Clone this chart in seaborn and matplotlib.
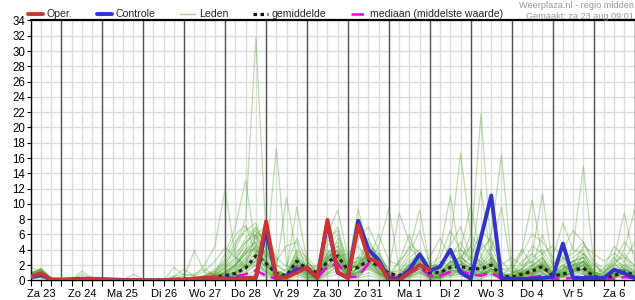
import numpy as np
import pandas as pd
import matplotlib
matplotlib.use("Agg")
import matplotlib.pyplot as plt
from matplotlib.lines import Line2D
import seaborn as sns

# ---------------- data (hours after Za 23 00:00, 6-hourly) ----------------
hours = list(range(6, 361, 6))
day_labels = ["Za 23", "Zo 24", "Ma 25", "Di 26", "Wo 27", "Do 28", "Vr 29", "Za 30",
              "Zo 31", "Ma 1", "Di 2", "Wo 3", "Do 4", "Vr 5", "Za 6"]
y_ticks = list(range(0, 35, 2))

oper = [0.5, 0.9, 0.1, 0.05, 0.05, 0.15, 0.2, 0.1, 0.05, 0.0,
        0.05, 0.0, 0.0, 0.0, 0.05, 0.1, 0.2, 0.35, 0.3, 0.2,
        0.2, 0.3, 0.3, 7.7, 0.3, 0.4, 1.0, 1.7, 0.3, 7.9,
        1.1, 0.3, 7.2, 2.9, 2.3, 0.0, 0.0, 1.0, 2.0, 1.35]

controle = [0.4, 0.7, 0.1, 0.1, 0.15, 0.2, 0.2, 0.15, 0.1, 0.05,
            0.05, 0.0, 0.0, 0.0, 0.0, 0.05, 0.1, 0.2, 0.2, 0.2,
            0.2, 0.3, 0.3, 6.6, 0.3, 0.5, 1.4, 1.6, 0.3, 7.6,
            1.0, 0.3, 7.8, 4.05, 2.65, 0.2, 0.2, 1.4, 3.4, 1.25,
            1.8, 4.0, 1.0, 0.2, 5.6, 11.1, 0.25, 0.2, 0.2, 0.2,
            0.3, 0.4, 4.8, 0.3, 0.3, 0.3, 0.3, 1.4, 0.9, 0.3]

gemiddelde = [0.5, 0.8, 0.1, 0.05, 0.05, 0.1, 0.1, 0.05, 0.05, 0.0,
              0.05, 0.0, 0.0, 0.0, 0.1, 0.15, 0.2, 0.3, 0.4, 0.6,
              0.9, 1.6, 3.2, 2.2, 0.9, 0.6, 2.5, 1.5, 1.0, 2.4,
              3.2, 1.3, 1.7, 2.6, 1.9, 0.9, 0.6, 1.2, 2.0, 1.0,
              1.0, 1.7, 1.8, 1.5, 1.5, 2.0, 0.6, 0.4, 0.8, 1.2,
              1.8, 0.6, 0.8, 1.3, 1.6, 0.5, 0.3, 0.6, 1.1, 0.7]

mediaan = [0.4, 0.6, 0.1, 0.0, 0.0, 0.0, 0.0, 0.0, 0.0, 0.0,
           0.0, 0.0, 0.0, 0.0, 0.0, 0.0, 0.0, 0.1, 0.2, 0.3,
           0.5, 0.8, 1.3, 0.6, 0.2, 0.3, 1.7, 1.4, 0.3, 1.8,
           2.2, 0.4, 0.5, 2.2, 1.9, 0.5, 0.2, 0.9, 1.7, 0.6,
           0.6, 1.1, 1.3, 0.7, 0.6, 1.0, 0.2, 0.1, 0.2, 0.4,
           0.6, 0.2, 0.2, 0.3, 0.6, 0.3, 0.1, 0.2, 0.4, 0.3]

# ensemble members (Leden)
led01 = [0.4, 0.8, 0.1, 0, 0, 0, 0, 0, 0, 0,
         0, 0, 0, 0, 0, 0, 0.2, 0.5, 1.2, 2.0,
         4.5, 8.0, 31.8, 5.5, 1.2, 0.5, 2.0, 1.0, 0.3, 1.5,
         3.5, 0.8, 1.0, 2.5, 1.2, 0.2, 0, 0.8, 1.5, 0.4,
         0.2, 1.0, 2.2, 0.8, 0.5, 1.5, 0.2, 0, 0, 0.6,
         1.8, 0.3, 0.5, 1.0, 2.0, 0.2, 0, 0.3, 1.0, 0.4]
led02 = [0.6, 1.2, 0.2, 0, 0, 0.3, 0.1, 0, 0, 0,
         0, 0, 0, 0, 0, 0, 0, 0.3, 0.8, 1.5,
         2.5, 5.0, 6.5, 3.0, 17.3, 2.0, 0.8, 0.3, 0.5, 3.0,
         4.5, 1.5, 2.0, 3.5, 2.5, 0.8, 0.3, 1.5, 2.8, 1.2,
         0.5, 2.5, 1.5, 0.6, 1.8, 3.0, 0.4, 0.2, 0.8, 1.5,
         2.5, 0.5, 1.2, 2.0, 3.0, 0.8, 0.2, 1.0, 2.0, 0.5]
led03 = [0.3, 0.5, 0, 0, 0, 0, 0, 0, 0, 0,
         0, 0, 0, 0, 0.5, 0.8, 0.6, 2.0, 4.5, 12.0,
         3.0, 1.5, 2.5, 1.0, 0.3, 0.2, 1.5, 0.6, 0.2, 0.8,
         2.0, 0.5, 0.4, 1.8, 0.8, 0, 0, 0.5, 1.0, 0.3,
         0.4, 0.8, 1.2, 0.5, 2.5, 1.0, 0, 0, 0.3, 0.8,
         1.0, 0.2, 0.8, 0.6, 1.5, 0.3, 0, 0.5, 0.8, 0.2]
led04 = [0.8, 1.5, 0.3, 0, 0, 0, 0, 0, 0, 0,
         0, 0, 0, 0, 0, 0, 0.2, 0.4, 1.0, 3.5,
         7.0, 13.1, 4.0, 2.5, 0.5, 0.3, 2.2, 1.2, 0.5, 2.0,
         1.5, 0.2, 1.8, 3.0, 2.0, 0.5, 0.2, 1.2, 2.0, 0.6,
         1.0, 1.5, 2.0, 3.0, 1.0, 0.8, 0.3, 0.5, 1.2, 0.4,
         0.8, 0.4, 1.5, 2.5, 1.0, 0.3, 0.5, 1.5, 0.6, 0.3]
led05 = [0.5, 0.9, 0.1, 0, 0, 0, 0, 0, 0, 0,
         0, 0, 0, 0, 0, 0, 0, 0, 0.3, 0.6,
         1.2, 2.5, 4.5, 3.5, 1.5, 10.9, 3.0, 1.0, 0.8, 2.5,
         5.5, 2.0, 1.5, 4.0, 1.5, 0.3, 0.5, 2.0, 3.0, 0.8,
         0.3, 1.2, 3.5, 1.0, 0.5, 2.0, 0.5, 0.3, 0.5, 1.8,
         3.0, 0.6, 0.4, 1.2, 2.5, 1.0, 0.3, 0.8, 1.8, 1.0]
led06 = [1.2, 0.9, 0.2, 0, 0, 0, 0, 0, 0, 0,
         0, 0, 0, 0, 0, 0, 0.3, 0.2, 0.5, 1.0,
         2.0, 3.5, 5.0, 2.0, 0.8, 1.5, 9.6, 2.5, 1.2, 3.5,
         2.5, 1.0, 0.5, 2.0, 3.5, 1.2, 0.4, 0.8, 1.5, 1.8,
         2.0, 0.6, 0.8, 1.5, 0.5, 2.8, 1.0, 0.2, 0.4, 0.8,
         1.2, 1.8, 0.6, 0.4, 1.0, 0.5, 0.8, 2.2, 1.0, 0.6]
led07 = [0.3, 0.6, 0.1, 0, 0, 0, 0, 0, 0, 0,
         0, 0, 0, 0, 0, 0, 0, 0.2, 0.3, 0.5,
         0.8, 2.0, 3.0, 1.5, 0.3, 0.5, 1.0, 2.0, 0.5, 1.5,
         2.0, 0.6, 3.0, 2.0, 4.5, 9.4, 1.5, 0.5, 2.0, 0.6,
         0.4, 1.5, 0.8, 0.3, 1.0, 2.5, 0.4, 0, 0.2, 0.5,
         0.8, 0.3, 1.0, 2.0, 1.2, 0.2, 0, 0.4, 0.5, 0.2]
led08 = [0.2, 0.4, 0, 0, 0, 0, 0, 0, 0, 0,
         0, 0, 0, 0, 0, 0, 0, 0, 0.2, 0.4,
         0.6, 1.5, 2.5, 4.0, 1.0, 0.5, 3.0, 1.5, 0.6, 2.5,
         3.0, 1.2, 1.5, 3.5, 1.0, 0.3, 2.5, 4.0, 9.2, 2.0,
         1.0, 0.5, 1.8, 2.0, 0.8, 1.2, 0.5, 0.8, 1.5, 2.5,
         1.5, 0.5, 0.8, 1.5, 0.8, 0.3, 0.2, 0.6, 1.2, 0.5]
led09 = [0.6, 1.1, 0.2, 0, 0, 0, 0, 0, 0, 0,
         0, 0, 0, 0, 0, 0, 0, 0.3, 0.6, 0.8,
         1.5, 3.0, 4.5, 2.0, 0.6, 0.3, 1.8, 0.8, 1.0, 4.0,
         2.0, 0.5, 1.0, 2.2, 1.5, 0.2, 0.5, 1.5, 2.5, 0.5,
         4.0, 11.1, 2.5, 1.0, 0.6, 1.5, 0.3, 0.2, 1.0, 2.0,
         1.0, 0.2, 0.5, 1.0, 3.5, 1.2, 0.4, 0.8, 1.5, 0.8]
led10 = [0.4, 0.7, 0.1, 0, 0, 0, 0, 0, 0, 0,
         0, 0, 0, 0, 0, 0, 0, 0, 0.4, 0.7,
         1.0, 2.2, 3.5, 1.5, 0.4, 0.8, 2.5, 1.0, 0.4, 3.0,
         4.0, 0.8, 1.5, 3.0, 2.0, 0.5, 0.3, 1.0, 1.5, 0.8,
         1.5, 5.0, 16.6, 6.0, 1.5, 0.8, 0.2, 0.4, 0.8, 1.2,
         2.0, 0.5, 1.0, 1.8, 2.2, 0.4, 0.2, 1.2, 0.8, 0.3]
led11 = [0.9, 1.4, 0.3, 0, 0, 0, 0, 0, 0, 0,
         0, 0, 0, 0, 0, 0, 0, 0.2, 0.5, 1.2,
         2.0, 4.0, 6.0, 2.5, 1.0, 0.4, 2.0, 1.5, 0.6, 2.0,
         3.0, 1.0, 2.5, 3.0, 1.8, 0.4, 0.6, 2.0, 3.0, 1.0,
         0.8, 2.0, 4.0, 9.8, 3.0, 1.5, 0.5, 0.3, 1.0, 0.6,
         1.5, 0.8, 2.0, 1.0, 1.5, 0.6, 0.4, 1.0, 2.0, 1.2]
led12 = [0.3, 0.5, 0.1, 0, 0, 0, 0, 0, 0, 0,
         0, 0, 0, 0, 0, 0, 0.1, 0.2, 0.3, 0.5,
         0.8, 1.8, 2.5, 1.2, 0.5, 0.2, 1.2, 0.5, 0.2, 1.2,
         2.5, 0.5, 1.8, 2.5, 1.0, 0.2, 0.3, 1.0, 1.8, 0.4,
         0.5, 1.5, 2.0, 4.5, 21.8, 3.5, 0.8, 0.3, 0.5, 1.0,
         1.8, 0.3, 0.6, 1.2, 1.8, 0.4, 0.2, 0.6, 1.0, 0.5]
led13 = [0.7, 1.0, 0.2, 0, 0, 0, 0, 0, 0, 0,
         0, 0, 0, 0, 0, 0, 0, 0.3, 0.6, 0.9,
         1.8, 3.5, 5.5, 3.0, 0.8, 0.5, 3.0, 2.0, 0.8, 3.5,
         5.0, 1.5, 2.0, 4.0, 2.5, 0.6, 0.3, 1.5, 2.5, 1.5,
         1.0, 2.5, 3.0, 2.0, 11.9, 2.5, 0.5, 0.8, 1.5, 0.8,
         2.5, 1.0, 1.5, 2.0, 2.5, 0.5, 0.3, 1.5, 1.2, 0.6]
led14 = [0.5, 0.8, 0.1, 0, 0, 0, 0, 0, 0, 0,
         0, 0, 0, 0, 0, 0, 0, 0.2, 0.2, 0.4,
         0.6, 1.2, 2.0, 1.0, 0.2, 0.3, 1.5, 0.8, 0.3, 2.0,
         2.8, 0.6, 1.0, 1.5, 0.8, 0.2, 0.2, 0.6, 1.2, 0.3,
         0.6, 1.0, 1.5, 1.2, 3.0, 6.0, 16.4, 2.0, 0.6, 1.5,
         2.0, 0.4, 0.8, 1.5, 2.0, 0.3, 0.2, 0.8, 1.0, 0.4]
led15 = [1.0, 1.3, 0.2, 0, 0, 0, 0, 0, 0, 0,
         0, 0, 0, 0, 0, 0, 0.2, 0.5, 0.8, 1.5,
         3.0, 5.5, 7.0, 4.0, 1.5, 0.6, 2.8, 1.2, 0.5, 2.8,
         3.8, 1.2, 3.0, 2.8, 2.0, 0.5, 0.8, 1.8, 2.2, 1.5,
         1.2, 1.8, 2.5, 1.5, 2.0, 4.0, 9.6, 1.2, 0.8, 1.0,
         1.2, 0.8, 1.2, 2.5, 3.0, 0.8, 0.4, 1.2, 1.5, 0.8]
led16 = [0.4, 0.6, 0.1, 0, 0, 0, 0, 0, 0, 0,
         0, 0, 0, 0, 0, 0, 0, 0, 0.2, 0.3,
         0.5, 1.0, 2.0, 0.8, 0.3, 0.2, 1.0, 0.4, 0.2, 1.0,
         1.8, 0.4, 0.8, 1.5, 0.6, 0.1, 0.2, 0.5, 1.0, 0.3,
         0.3, 0.8, 1.0, 0.6, 0.8, 1.5, 0.5, 2.0, 4.0, 10.5,
         3.0, 0.8, 0.5, 1.0, 1.5, 0.3, 0.2, 0.5, 0.8, 0.3]
led17 = [0.6, 1.0, 0.2, 0, 0, 0, 0, 0, 0, 0,
         0, 0, 0, 0, 0, 0, 0, 0.2, 0.5, 0.8,
         1.2, 2.5, 3.5, 2.0, 0.8, 0.4, 2.2, 1.0, 0.4, 2.2,
         3.2, 0.8, 1.5, 2.5, 1.5, 0.3, 0.4, 1.2, 2.0, 0.6,
         0.8, 1.5, 2.0, 1.0, 1.2, 2.0, 0.5, 0.4, 1.5, 3.5,
         11.3, 2.0, 0.8, 1.5, 2.0, 0.5, 0.3, 1.0, 1.5, 0.5]
led18 = [0.5, 0.9, 0.1, 0, 0, 0, 0, 0, 0, 0,
         0, 0, 0, 0, 0, 0, 0, 0.1, 0.3, 0.6,
         1.0, 2.0, 3.0, 1.8, 0.6, 0.3, 1.8, 0.8, 0.4, 1.8,
         2.5, 0.6, 1.2, 2.0, 1.2, 0.2, 0.3, 1.0, 1.5, 0.5,
         0.6, 1.2, 1.5, 1.0, 0.8, 1.5, 0.4, 0.3, 0.8, 1.2,
         2.0, 0.6, 1.5, 4.5, 14.9, 2.5, 0.5, 1.0, 1.5, 0.5]
led19 = [0.3, 0.5, 0, 0, 0, 0, 0, 0, 0, 0,
         0, 0, 0, 0, 0, 0, 0, 0, 0.2, 0.4,
         0.8, 1.5, 2.2, 1.2, 0.4, 0.2, 1.2, 0.6, 0.3, 1.5,
         2.2, 0.5, 1.0, 1.8, 1.0, 0.2, 0.2, 0.8, 1.2, 0.4,
         0.5, 1.0, 1.2, 0.8, 0.6, 1.2, 0.3, 0.2, 0.6, 1.0,
         1.5, 0.5, 1.2, 2.0, 2.5, 0.8, 1.0, 3.0, 8.8, 2.5]
led20 = [0.8, 1.2, 0.2, 0, 0, 0, 0, 0, 0, 0,
         0, 0, 0, 0, 0, 0, 0.2, 0.4, 0.7, 1.0,
         1.8, 3.5, 4.0, 2.2, 1.0, 0.5, 2.5, 1.5, 0.5, 2.5,
         3.5, 1.2, 2.0, 3.2, 2.0, 0.4, 0.5, 1.5, 2.5, 0.8,
         0.8, 2.0, 2.5, 1.5, 1.5, 2.5, 0.6, 0.5, 1.2, 1.5,
         2.2, 0.8, 1.5, 2.5, 3.0, 1.0, 0.8, 2.0, 4.0, 9.2]
led21 = [1.7, 1.1, 0.2, 0, 0, 1.2, 0.3, 0, 0, 0,
         0, 0, 0, 0, 0.3, 0.5, 3.9, 1.0, 0.8, 2.5,
         5.0, 6.5, 7.5, 4.0, 1.2, 0.8, 3.5, 2.2, 0.8, 4.5,
         6.0, 2.5, 3.0, 5.0, 3.0, 0.8, 1.0, 3.0, 4.0, 1.5,
         1.5, 3.0, 5.0, 2.5, 2.0, 3.5, 1.0, 0.8, 2.0, 2.5,
         3.5, 1.5, 2.5, 3.0, 4.0, 1.5, 1.0, 2.5, 3.0, 1.5]
led22 = [0.3, 0.6, 0.1, 0, 0, 0.4, 0, 0, 0, 0,
         0.8, 0.2, 0, 0, 1.7, 0.6, 0.8, 1.5, 0.6, 1.8,
         3.5, 5.0, 6.0, 3.5, 1.0, 0.6, 2.5, 1.2, 0.5, 2.8,
         4.0, 1.8, 1.5, 3.0, 2.0, 0.5, 0.6, 2.0, 3.2, 1.0,
         1.2, 2.5, 2.0, 1.8, 1.0, 2.2, 0.8, 0.4, 1.0, 1.8,
         2.8, 1.0, 1.8, 1.5, 2.5, 1.0, 0.5, 1.5, 2.2, 1.0]
led23 = [0.6, 1.6, 0.3, 0, 0, 0.8, 0.2, 0, 0, 0,
         0, 0, 0, 0, 0.5, 1.5, 0.4, 0.6, 1.5, 2.2,
         4.0, 7.0, 5.5, 6.5, 2.0, 1.0, 3.8, 2.5, 1.0, 5.0,
         7.0, 2.0, 2.5, 4.5, 3.5, 1.0, 1.2, 2.5, 3.5, 2.0,
         2.0, 3.5, 4.0, 3.0, 2.5, 4.5, 1.5, 1.0, 1.5, 3.0,
         4.0, 2.0, 2.8, 3.5, 5.0, 2.0, 1.2, 2.0, 3.5, 1.8]
led24 = [0.2, 0.3, 0, 0, 0, 0, 0, 0, 0, 0,
         0, 0, 0, 0, 0, 0, 0, 0, 0, 0.2,
         0.3, 0.5, 0.8, 0.4, 0.1, 0, 0.5, 0.2, 0, 0.5,
         0.8, 0.2, 0.3, 0.6, 0.3, 0, 0, 0.3, 0.5, 0.1,
         0.2, 0.4, 0.5, 0.3, 0.2, 0.6, 0.1, 0, 0.2, 0.4,
         0.6, 0.2, 0.3, 0.5, 0.8, 0.2, 0, 0.3, 0.4, 0.1]
led25 = [0.5, 1.2, 0.2, 0, 0, 0, 0, 0, 0, 0,
         0, 0, 0, 0, 0, 0.3, 0.2, 0.4, 1.0, 1.8,
         2.8, 4.5, 6.8, 4.5, 2.0, 1.2, 4.0, 3.0, 1.5, 6.0,
         9.2, 3.0, 2.0, 5.5, 2.5, 0.6, 0.8, 2.2, 3.5, 1.2,
         1.0, 2.2, 3.0, 2.0, 1.5, 3.0, 0.8, 0.6, 1.2, 2.0,
         3.0, 1.2, 2.0, 2.5, 3.5, 1.2, 0.6, 1.8, 2.5, 1.2]
led26 = [0.4, 0.8, 0.1, 0, 0, 0, 0, 0, 0, 0,
         0, 0, 0, 0, 0, 0, 0.1, 0.3, 0.6, 1.2,
         2.2, 4.0, 5.0, 2.8, 1.2, 0.8, 3.2, 1.8, 0.8, 3.5,
         4.5, 2.0, 9.3, 4.0, 3.0, 1.5, 8.8, 5.0, 3.5, 1.5,
         2.5, 1.8, 3.0, 4.5, 2.0, 1.5, 0.6, 0.8, 2.5, 3.5,
         2.0, 1.0, 3.0, 1.5, 2.0, 0.8, 1.5, 3.0, 1.5, 1.0]
led27 = [0.7, 1.0, 0.2, 0, 0, 0.2, 0, 0, 0, 0,
         0, 0, 0, 0, 0, 0, 0, 0.2, 0.4, 1.0,
         2.0, 3.8, 4.2, 2.2, 0.8, 0.6, 2.6, 1.8, 0.7, 3.2,
         3.8, 1.5, 2.2, 3.8, 2.2, 0.8, 1.5, 3.5, 6.5, 2.0,
         3.0, 6.5, 4.0, 2.5, 5.0, 3.0, 1.5, 1.5, 3.5, 6.0,
         5.0, 3.0, 7.5, 4.0, 3.5, 2.0, 1.0, 2.5, 5.0, 3.5]
led28 = [0.9, 1.5, 0.2, 0, 0, 0, 0, 0, 0, 0,
         0, 0, 0, 0, 0.4, 0.2, 0.2, 0.6, 1.2, 2.8,
         6.0, 7.2, 3.5, 5.5, 3.0, 1.8, 5.5, 2.5, 1.0, 3.0,
         3.0, 3.5, 4.5, 2.5, 6.0, 2.5, 2.0, 4.5, 2.5, 3.0,
         5.5, 3.0, 2.5, 6.0, 4.0, 5.5, 2.0, 3.0, 2.0, 4.5,
         3.5, 4.5, 3.0, 2.0, 4.5, 3.5, 2.5, 3.5, 2.5, 5.0]
led29 = [0.3, 0.4, 0.1, 0, 0, 0, 0, 0, 0, 0,
         0, 0, 0, 0, 0, 0, 0, 0, 0.1, 0.3,
         0.5, 0.8, 1.2, 0.6, 0.2, 0.1, 0.8, 0.3, 0.1, 0.8,
         1.2, 0.3, 0.5, 1.0, 0.5, 0, 0.1, 0.4, 0.8, 0.2,
         0.3, 0.6, 0.8, 0.4, 0.3, 0.8, 0.2, 0, 0.3, 0.6,
         1.0, 0.3, 0.5, 0.8, 1.2, 0.3, 0.1, 0.4, 0.6, 0.2]
led30 = [0.6, 0.9, 0.2, 0, 0, 0, 0, 0, 0, 0,
         0, 0, 0, 0, 0.2, 0.3, 0.5, 1.2, 2.5, 4.3,
         3.0, 2.0, 6.0, 7.0, 2.5, 4.5, 5.0, 1.2, 2.0, 5.5,
         6.5, 1.0, 5.5, 7.0, 4.0, 0.8, 2.5, 6.0, 2.0, 0.5,
         1.5, 4.5, 7.0, 3.0, 6.5, 5.0, 2.5, 1.0, 4.0, 2.0,
         6.0, 2.0, 4.0, 6.5, 5.0, 2.5, 1.5, 4.5, 3.0, 2.0]
led31 = [0.4, 1.3, 0.2, 0, 0, 0, 0, 0, 0, 0,
         0, 0, 0, 0, 0, 0, 0, 0.1, 0.5, 0.9,
         1.5, 2.8, 3.8, 2.5, 0.7, 0.4, 2.0, 1.0, 0.3, 2.5,
         3.0, 0.7, 1.2, 2.8, 1.0, 0.1, 0.2, 1.2, 2.2, 0.5,
         0.7, 1.8, 2.2, 1.2, 0.9, 2.0, 0.3, 0.2, 0.7, 1.4,
         2.2, 0.4, 0.9, 1.8, 2.4, 0.6, 0.2, 0.9, 1.4, 0.6]
led32 = [0.7, 0.7, 0.1, 0, 0, 0, 0, 0, 0, 0,
         0, 0, 0, 0, 0, 0, 0, 0.2, 0.2, 0.7,
         1.0, 1.8, 2.8, 1.8, 0.5, 0.3, 1.5, 0.7, 0.3, 1.8,
         2.2, 0.4, 0.8, 2.0, 0.8, 0.1, 0.1, 0.7, 1.5, 0.3,
         0.4, 1.2, 1.4, 0.9, 0.7, 1.2, 0.2, 0.1, 0.5, 0.9,
         1.4, 0.3, 0.7, 1.2, 1.6, 0.4, 0.1, 0.6, 0.9, 0.3]

leden = [led01, led02, led03, led04, led05, led06, led07, led08, led09, led10,
         led11, led12, led13, led14, led15, led16, led17, led18, led19, led20,
         led21, led22, led23, led24, led25, led26, led27, led28, led29, led30,
         led31, led32]

# ---------------- tables ----------------
for arr in leden + [controle, gemiddelde, mediaan]:
    assert len(arr) == len(hours), len(arr)

df_leden = pd.DataFrame([
    {"uur": h, "mm": v, "lid": k}
    for k, arr in enumerate(leden) for h, v in zip(hours, arr)
])
df_oper = pd.DataFrame({"uur": hours[:len(oper)], "mm": oper})
df_ctrl = pd.DataFrame({"uur": hours, "mm": controle})
df_mean = pd.DataFrame({"uur": hours, "mm": gemiddelde})
df_med = pd.DataFrame({"uur": hours, "mm": mediaan})

# ---------------- style ----------------
sns.set_style("white")
plt.rcParams["font.family"] = ["Liberation Sans", "DejaVu Sans"]

C_OPER = "#cc3333"
C_CTRL = "#3333cc"
C_LID = "#3f9a1c"
C_MED = "#ee00ee"

fig = plt.figure(figsize=(6.35, 3.0), dpi=100)
ax = fig.add_axes([0.0483, 0.0657, 0.9510, 0.866])

sns.lineplot(data=df_leden, x="uur", y="mm", units="lid", estimator=None,
             color=C_LID, alpha=0.33, lw=0.9, ax=ax, legend=False, zorder=2)
sns.lineplot(data=df_med, x="uur", y="mm", color=C_MED, lw=1.8,
             ax=ax, zorder=3).lines[-1].set_dashes([5, 2.5])
sns.lineplot(data=df_mean, x="uur", y="mm", color="#222222", lw=2.3,
             ax=ax, zorder=4).lines[-1].set_dashes([1.1, 1.1])
sns.lineplot(data=df_ctrl, x="uur", y="mm", color=C_CTRL, lw=2.8, ax=ax, zorder=5)
sns.lineplot(data=df_oper, x="uur", y="mm", color=C_OPER, lw=2.8, ax=ax, zorder=6)

ax.set_xlim(6, 360)
ax.set_ylim(0, 34)
ax.set_xlabel("")
ax.set_ylabel("")

# grid: light every 6h and every 2 mm, dark at midnights
ax.set_xticks(hours)
noon = {12 + 24 * i: lab for i, lab in enumerate(day_labels)}
ax.set_xticklabels([noon.get(h, "") for h in hours])
ax.set_yticks(y_ticks)
ax.set_yticklabels([str(v) for v in y_ticks])
ax.grid(True, color="#dcdcdc", lw=1.0, zorder=0)
ax.set_axisbelow(True)
for d in range(24, 360, 24):
    ax.axvline(d, color="#555555", lw=1.0, zorder=1)

ax.tick_params(axis="x", direction="out", length=4, width=0.8, pad=2,
               labelsize=8, colors="black", bottom=True)
ax.tick_params(axis="y", direction="out", length=3, width=0.8, pad=1,
               labelsize=8.3, colors="black", left=True)
for s in ax.spines.values():
    s.set_color("black")
    s.set_linewidth(1.0)
ax.spines["top"].set_linewidth(1.6)

# legend
handles = [
    Line2D([], [], color=C_OPER, lw=2.8),
    Line2D([], [], color=C_CTRL, lw=2.8),
    Line2D([], [], color="#a8d590", lw=1.0),
    Line2D([], [], color="#111111", lw=2.3, dashes=[1.1, 1.1]),
    Line2D([], [], color=C_MED, lw=1.8, dashes=[5, 2.5]),
]
labels = ["Oper.", "Controle", "Leden", "gemiddelde", "mediaan (middelste waarde)"]
fig.legend(handles, labels, ncol=5, loc="center left", bbox_to_anchor=(0.044, 0.952),
           frameon=False, fontsize=7.6, handlelength=1.45, handletextpad=0.35,
           columnspacing=2.3, borderpad=0, borderaxespad=0)

fig.text(0.998, 0.995, "Weerplaza.nl - regio midden", ha="right", va="top",
         fontsize=6.6, color="#9a9a9a")
fig.text(0.998, 0.945, "Gemaakt: za 23 aug 09:01", ha="right", va="center",
         fontsize=6.6, color="#9a9a9a")

fig.savefig("out.png", dpi=100)
